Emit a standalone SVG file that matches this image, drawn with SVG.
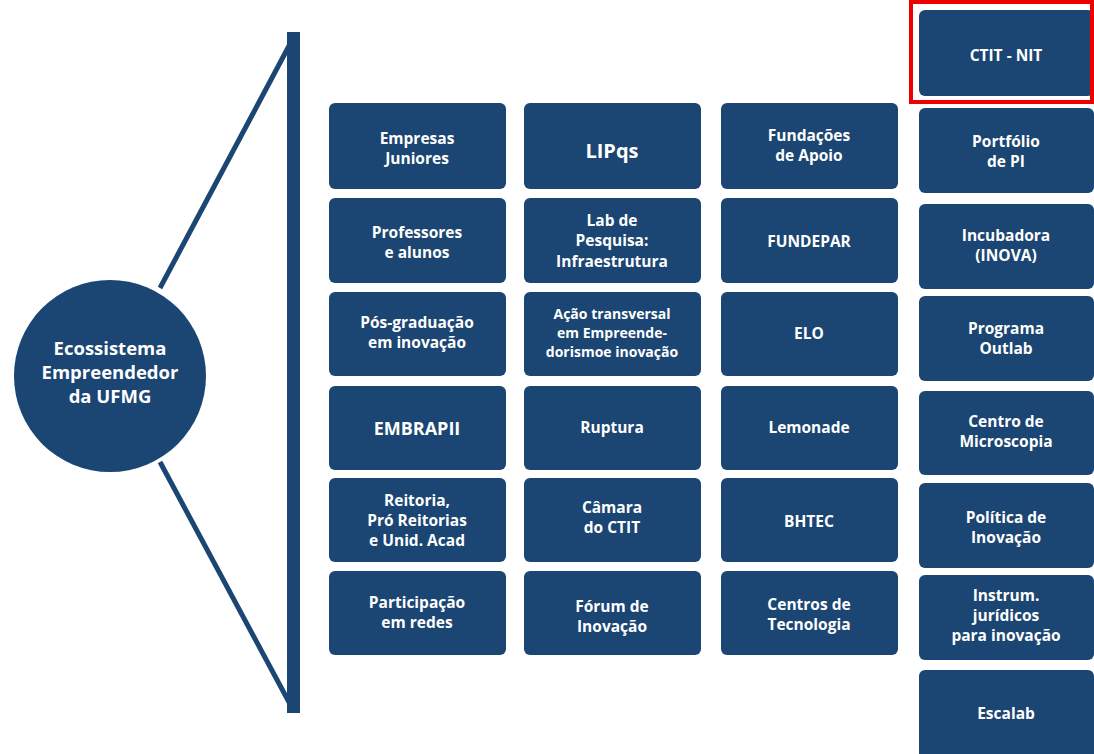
<svg xmlns="http://www.w3.org/2000/svg" width="1094" height="754" viewBox="0 0 1094 754">
<style>
.b{fill:#1b4572;}
.t{fill:#ffffff;font-family:"Open Sans","DejaVu Sans",sans-serif;font-weight:bold;font-size:15.5px;text-anchor:middle;}
.c{fill:#ffffff;font-family:"Open Sans","DejaVu Sans",sans-serif;font-weight:bold;font-size:18.5px;text-anchor:middle;}
.ln{stroke:#1b4572;stroke-width:5;fill:none;}
</style>
<rect width="1094" height="754" fill="#ffffff"/>
<g id="connectors">
<line class="ln" x1="160" y1="288" x2="290" y2="44"/>
<line class="ln" x1="160" y1="462" x2="290" y2="704"/>
<rect class="b" x="287" y="32" width="13" height="681"/>
</g>
<g id="center"><circle class="b" cx="110" cy="376" r="96"/>
<text class="c" x="110" y="355">Ecossistema</text>
<text class="c" x="110" y="379">Empreendedor</text>
<text class="c" x="110" y="403">da UFMG</text></g>

<g id="n1"><rect class="b" x="329" y="103" width="177" height="86" rx="6"/><text class="t" x="417" y="144">Empresas</text><text class="t" x="417" y="164">Juniores</text></g>
<g id="n2"><rect class="b" x="329" y="198" width="177" height="85" rx="6"/><text class="t" x="417" y="238">Professores</text><text class="t" x="417" y="258">e alunos</text></g>
<g id="n3"><rect class="b" x="329" y="292" width="177" height="84" rx="6"/><text class="t" x="417" y="328">Pós-graduação</text><text class="t" x="417" y="348">em inovação</text></g>
<g id="n4"><rect class="b" x="329" y="386" width="177" height="84" rx="6"/><text class="t" x="417" y="435" style="font-size:18px">EMBRAPII</text></g>
<g id="n5"><rect class="b" x="329" y="478" width="177" height="84" rx="6"/><text class="t" x="417" y="506">Reitoria,</text><text class="t" x="417" y="526">Pró Reitorias</text><text class="t" x="417" y="546">e Unid. Acad</text></g>
<g id="n6"><rect class="b" x="329" y="571" width="177" height="84" rx="6"/><text class="t" x="417" y="608">Participação</text><text class="t" x="417" y="628">em redes</text></g>

<g id="n7"><rect class="b" x="524" y="103" width="177" height="86" rx="6"/><text class="t" x="612" y="158" style="font-size:20px">LIPqs</text></g>
<g id="n8"><rect class="b" x="524" y="198" width="177" height="85" rx="6"/><text class="t" x="612" y="226">Lab de</text><text class="t" x="612" y="246">Pesquisa:</text><text class="t" x="612" y="267">Infraestrutura</text></g>
<g id="n9"><rect class="b" x="524" y="292" width="177" height="84" rx="6"/><text class="t" x="612" y="319" style="font-size:14px">Ação transversal</text><text class="t" x="612" y="338" style="font-size:14px">em Empreende-</text><text class="t" x="612" y="357" style="font-size:14px">dorismoe inovação</text></g>
<g id="n10"><rect class="b" x="524" y="386" width="177" height="84" rx="6"/><text class="t" x="612" y="433">Ruptura</text></g>
<g id="n11"><rect class="b" x="524" y="478" width="177" height="84" rx="6"/><text class="t" x="612" y="513">Câmara</text><text class="t" x="612" y="533">do CTIT</text></g>
<g id="n12"><rect class="b" x="524" y="571" width="177" height="84" rx="6"/><text class="t" x="612" y="612">Fórum de</text><text class="t" x="612" y="632">Inovação</text></g>

<g id="n13"><rect class="b" x="721" y="103" width="177" height="86" rx="6"/><text class="t" x="809" y="141">Fundações</text><text class="t" x="809" y="161">de Apoio</text></g>
<g id="n14"><rect class="b" x="721" y="198" width="177" height="85" rx="6"/><text class="t" x="809" y="247">FUNDEPAR</text></g>
<g id="n15"><rect class="b" x="721" y="292" width="177" height="84" rx="6"/><text class="t" x="809" y="339">ELO</text></g>
<g id="n16"><rect class="b" x="721" y="386" width="177" height="84" rx="6"/><text class="t" x="809" y="433">Lemonade</text></g>
<g id="n17"><rect class="b" x="721" y="478" width="177" height="84" rx="6"/><text class="t" x="809" y="527">BHTEC</text></g>
<g id="n18"><rect class="b" x="721" y="571" width="177" height="84" rx="6"/><text class="t" x="809" y="610">Centros de</text><text class="t" x="809" y="630">Tecnologia</text></g>

<g id="n19"><rect class="b" x="919" y="10" width="175" height="86" rx="6"/><text class="t" x="1006" y="61">CTIT - NIT</text></g>
<g id="n20"><rect class="b" x="919" y="108" width="175" height="85" rx="6"/><text class="t" x="1006" y="147">Portfólio</text><text class="t" x="1006" y="167">de PI</text></g>
<g id="n21"><rect class="b" x="919" y="204" width="175" height="85" rx="6"/><text class="t" x="1006" y="241">Incubadora</text><text class="t" x="1006" y="261">(INOVA)</text></g>
<g id="n22"><rect class="b" x="919" y="296" width="175" height="85" rx="6"/><text class="t" x="1006" y="334">Programa</text><text class="t" x="1006" y="354">Outlab</text></g>
<g id="n23"><rect class="b" x="919" y="391" width="175" height="84" rx="6"/><text class="t" x="1006" y="427">Centro de</text><text class="t" x="1006" y="447">Microscopia</text></g>
<g id="n24"><rect class="b" x="919" y="483" width="175" height="85" rx="6"/><text class="t" x="1006" y="523">Política de</text><text class="t" x="1006" y="543">Inovação</text></g>
<g id="n25"><rect class="b" x="919" y="575" width="175" height="85" rx="6"/><text class="t" x="1006" y="601">Instrum.</text><text class="t" x="1006" y="621">jurídicos</text><text class="t" x="1006" y="641">para inovação</text></g>
<g id="n26"><rect class="b" x="919" y="670" width="175" height="90" rx="6"/><text class="t" x="1006" y="719">Escalab</text></g>
<rect x="911" y="2" width="181" height="100" fill="none" stroke="#ee0000" stroke-width="4"/>
</svg>
